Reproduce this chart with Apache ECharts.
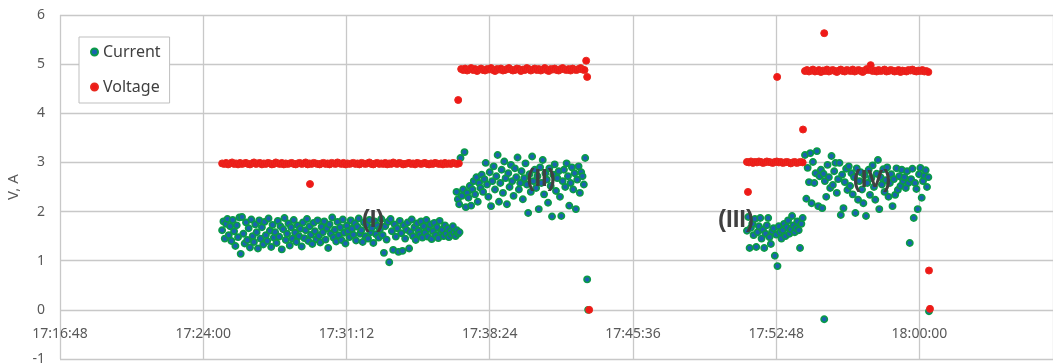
<!DOCTYPE html>
<html>
<head>
<meta charset="utf-8">
<script src="https://cdn.jsdelivr.net/npm/echarts@6/dist/echarts.min.js"></script>
<style>
html,body{margin:0;padding:0;background:#fff;}
#chart{width:1053px;height:364px;}
</style>
</head>
<body>
<div id="chart"></div>
<script>
// time in seconds since midnight; each segment: start time, sample step (s), values
const xTicksMin = 62208; // 17:16:48
const xTickStep = 432;   // 7:12
const xMax = 65203;

const currentIStart = 62697, currentIStep = 4;
const currentI = [
1.62,1.80,1.45,1.75,1.85,1.52,1.70,1.40,1.83,1.60,1.30,1.72,1.48,1.88,1.14,1.89,1.55,1.35,1.78,1.42,
1.66,1.27,1.84,1.50,1.38,1.74,1.58,1.25,1.82,1.45,1.68,1.33,1.79,1.52,1.40,1.86,1.61,1.28,1.73,1.47,
1.58,1.36,1.81,1.49,1.70,1.23,1.64,1.87,1.42,1.55,1.76,1.31,1.68,1.45,1.83,1.57,1.38,1.72,1.50,1.65,
1.29,1.78,1.46,1.62,1.85,1.40,1.70,1.53,1.34,1.77,1.60,1.44,1.82,1.51,1.37,1.69,1.58,1.80,1.43,1.66,
1.26,1.74,1.55,1.88,1.47,1.63,1.39,1.79,1.52,1.68,1.42,1.84,1.57,1.35,1.71,1.60,1.48,1.82,1.65,1.53,
1.76,1.41,1.69,1.86,1.55,1.62,1.38,1.78,1.50,1.73,1.45,1.83,1.58,1.67,1.36,1.80,1.54,1.71,1.47,1.64,
1.85,1.52,1.16,1.70,1.43,1.79,0.97,1.85,1.60,1.22,1.74,1.49,1.66,1.18,1.81,1.56,1.20,1.72,1.45,1.63,
1.78,1.25,1.58,1.84,1.50,1.68,1.42,1.76,1.61,1.53,1.80,1.47,1.70,1.57,1.83,1.49,1.65,1.74,1.44,1.60,
1.77,1.52,1.68,1.46,1.81,1.58,1.63,1.50,1.72,1.55,1.66,1.48,1.60,1.53,1.70,1.57,1.50,1.62,1.55,1.58];

const currentIIStart = 63404, currentIIStep = 4;
const currentII = [
2.40,2.25,2.15,3.09,2.32,2.45,3.21,2.09,2.38,2.28,
2.52,2.12,2.45,2.62,2.35,2.70,2.20,2.58,2.48,2.75,
2.40,2.66,2.99,2.55,2.30,2.80,2.11,2.62,2.92,2.45,
2.72,3.15,2.20,2.58,2.85,2.38,3.02,2.68,2.15,2.78,
2.50,2.95,2.62,2.32,2.88,2.70,3.10,2.45,2.58,2.82,
2.25,2.68,2.98,2.55,1.97,2.76,2.40,3.12,2.62,2.85,
2.48,2.72,2.05,2.90,2.58,3.05,2.35,2.78,2.65,2.18,
2.88,2.52,1.90,2.75,2.96,2.42,2.68,2.82,2.30,1.91,
2.62,2.85,2.50,2.98,2.72,2.12,2.58,2.90,2.45,2.78,
2.05,2.65,2.92,2.38,2.80,2.72,2.55,3.09];

const currentIIIStart = 64280, currentIIIStep = 4;
const currentIII = [
1.61,1.89,1.26,1.67,1.75,1.52,1.85,1.28,1.58,1.70,1.87,1.45,1.63,1.26,1.55,1.72,1.87,1.48,1.34,1.60,
1.66,1.10,1.53,0.89,1.70,1.58,1.45,1.62,1.75,1.50,1.68,1.82,1.55,1.64,1.91,1.72,1.58,1.66,1.80,1.62,
1.26,1.75,1.87];

const currentIVStart = 64455, currentIVStep = 4;
const currentIV = [
3.15,2.26,2.89,2.60,3.19,2.17,3.01,2.58,2.78,3.23,2.11,2.72,2.85,2.07,2.77,2.62,2.30,2.95,2.70,2.48,
3.13,2.54,2.82,2.99,2.38,2.66,2.99,1.93,2.75,2.07,2.60,2.87,2.44,2.92,2.52,2.78,2.35,2.70,1.97,2.88,
2.24,2.62,2.80,2.45,2.17,2.74,1.91,2.58,2.85,2.34,2.68,2.94,2.50,2.24,2.77,3.05,2.05,2.70,2.55,2.86,
2.40,2.64,2.90,2.30,2.58,2.76,2.11,2.66,2.34,2.88,2.44,2.72,2.52,2.85,2.62,2.70,2.48,2.82,2.58,1.36,
2.66,2.87,1.87,2.58,2.46,2.05,2.76,2.89,2.28,2.62,2.73,2.84,2.50,2.70];

// isolated current samples [time, value]
const currentExtra = [[63798,0.62],[63801,0.00],[64513,-0.19],[64829,-0.03]];

const voltageIStart = 62697, voltageIStep = 6;
const voltageI = [
2.98,2.97,2.99,2.96,2.98,3.00,2.97,2.98,2.96,2.99,2.97,2.98,2.99,2.97,2.96,2.98,3.00,2.97,2.98,2.99,
2.96,2.98,2.97,2.99,2.98,2.96,2.97,3.00,2.98,2.97,2.99,2.96,2.98,2.97,2.98,2.99,2.97,2.96,2.98,2.99,
2.97,2.98,3.00,2.96,2.98,2.97,2.99,2.98,2.97,2.96,2.98,2.99,2.97,2.98,2.96,2.99,2.98,2.97,3.00,2.98,
2.97,2.99,2.96,2.98,2.97,2.98,2.99,2.97,2.98,2.96,2.99,2.98,2.97,2.98,3.00,2.97,2.96,2.98,2.99,2.97,
2.98,2.97,2.99,2.96,2.98,2.97,3.00,2.98,2.97,2.99,2.98,2.96,2.97,2.98,2.99,2.97,2.98,2.96,2.99,2.98,
2.97,2.98,2.99,2.97,2.96,2.98,2.97,2.99,2.98,2.97,2.98,2.96,2.99,2.97,2.98,2.97,2.99,2.98,2.97,2.98];

const voltageIIStart = 63418, voltageIIStep = 6;
const voltageII = [
4.90,4.88,4.91,4.87,4.89,4.92,4.88,4.90,4.86,4.89,4.91,4.88,4.87,4.90,4.89,4.92,4.88,4.86,4.90,4.89,
4.91,4.87,4.88,4.90,4.92,4.89,4.87,4.88,4.91,4.90,4.86,4.89,4.88,4.92,4.90,4.87,4.89,4.91,4.88,4.90,
4.87,4.89,4.92,4.88,4.86,4.90,4.89,4.91,4.88,4.87,4.90,4.92,4.89,4.88,4.90,4.87,4.91,4.89,4.88,4.90,
4.92,4.89,4.88];

const voltageIIIStart = 64280, voltageIIIStep = 6;
const voltageIII = [
3.01,3.00,3.02,2.99,3.01,3.00,3.02,3.01,2.99,3.00,3.02,3.01,3.00,2.99,3.01,3.02,3.00,3.01,2.99,3.00,
3.01,3.00,2.98,3.00,3.01,2.99,3.00,3.01,3.00];

const voltageIVStart = 64455, voltageIVStep = 6;
const voltageIV = [
4.86,4.88,4.85,4.87,4.89,4.85,4.86,4.88,4.84,4.87,4.86,4.89,4.85,4.87,4.88,4.86,4.84,4.87,4.89,4.86,
4.85,4.88,4.87,4.86,4.89,4.85,4.87,4.88,4.86,4.84,4.87,4.90,4.88,4.98,4.86,4.87,4.85,4.88,4.86,4.87,
4.89,4.85,4.86,4.88,4.87,4.85,4.86,4.88,4.84,4.87,4.86,4.85,4.88,4.87,4.89,4.86,4.85,4.87,4.86,4.88,
4.85,4.86,4.84];

// isolated voltage samples [time, value]
const voltageExtra = [[62962,2.56],[63409,4.27],[63795,5.07],[63798,4.74],[63804,0.00],
  [64283,2.40],[64371,4.74],[64449,3.67],[64513,5.63],[64829,0.80],[64832,0.02]];

// region annotations [time, value, text]
const annotations = [[63152,1.83,'(I)'],[63659,2.66,'(II)'],[64247,1.83,'(III)'],[64657,2.64,'(IV)']];

function seg(start, step, vals){ return vals.map((v,i)=>[start+i*step, v]); }
const currentData = [].concat(
  seg(currentIStart,currentIStep,currentI),
  seg(currentIIStart,currentIIStep,currentII),
  seg(currentIIIStart,currentIIIStep,currentIII),
  seg(currentIVStart,currentIVStep,currentIV),
  currentExtra);
const voltageData = [].concat(
  seg(voltageIStart,voltageIStep,voltageI),
  seg(voltageIIStart,voltageIIStep,voltageII),
  seg(voltageIIIStart,voltageIIIStep,voltageIII),
  seg(voltageIVStart,voltageIVStep,voltageIV),
  voltageExtra);

function fmtTime(s){
  const h=Math.floor(s/3600), m=Math.floor((s%3600)/60), sec=Math.round(s%60);
  const p=n=>String(n).padStart(2,'0');
  return h+':'+p(m)+':'+p(sec);
}

const FONT = '"Noto Sans", "DejaVu Sans", sans-serif';
const gridColor = '#c8c8c8';
const chart = echarts.init(document.getElementById('chart'));
chart.setOption({
  animation:false,
  textStyle:{fontFamily:FONT},
  grid:{left:60, right:0, top:15, bottom:5, containLabel:false, outerBoundsMode:'none'},
  legend:{
    orient:'vertical', left:79, top:37,
    data:['Current','Voltage'],
    icon:'circle', itemWidth:7, itemHeight:7, itemGap:15,
    padding:[5,9,6,11],
    backgroundColor:'#fff', borderColor:'#bfbfbf', borderWidth:1,
    textStyle:{fontFamily:FONT, fontSize:16, color:'#404040', lineHeight:20}
  },
  xAxis:{
    type:'value', min:xTicksMin, max:xMax, interval:xTickStep, position:'bottom',
    axisLine:{show:false},
    axisTick:{show:false},
    axisLabel:{formatter:fmtTime, fontFamily:FONT, fontSize:14, color:'#595959', margin:-32, showMaxLabel:false},
    splitLine:{show:true, lineStyle:{color:gridColor, width:1.3}}
  },
  yAxis:{
    type:'value', min:-1, max:6, interval:1,
    name:'V, A', nameLocation:'middle', nameGap:36, nameRotate:90,
    nameTextStyle:{fontFamily:FONT, fontSize:15, color:'#595959'},
    axisLine:{show:false},
    axisTick:{show:false},
    axisLabel:{fontFamily:FONT, fontSize:14, color:'#595959', margin:15},
    splitLine:{show:true, lineStyle:{color:gridColor, width:1.3}}
  },
  series:[
    {name:'Current', type:'scatter', data:currentData, symbolSize:6.2, z:2,
     itemStyle:{color:'#1a62b0', borderColor:'#0a9a48', borderWidth:1.7, opacity:1}},
    {name:'Voltage', type:'scatter', data:voltageData, symbolSize:7, z:3,
     itemStyle:{color:'#f01818', borderColor:'#e8281e', borderWidth:1, opacity:1},
     markPoint:{
       symbol:'circle', symbolSize:0, silent:true, animation:false,
       itemStyle:{color:'rgba(0,0,0,0)'},
       label:{show:true, position:'inside', formatter:'{b}',
         fontFamily:'"Liberation Sans", Arial, sans-serif', fontSize:24, fontWeight:'bold', color:'#404040'},
       data:annotations.map(a=>({coord:[a[0],a[1]], name:a[2]}))
     }}
  ]
});
</script>
</body>
</html>
